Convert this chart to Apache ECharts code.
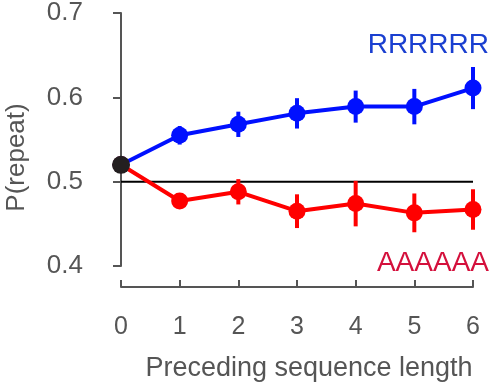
<!DOCTYPE html>
<html><head><meta charset="utf-8">
<script src="https://cdn.jsdelivr.net/npm/echarts@6/dist/echarts.min.js"></script>
<style>html,body{margin:0;padding:0;background:#fff}#c{width:490px;height:388px}</style>
</head><body><div id="c"></div>
<script>
var lengths = [0, 1, 2, 3, 4, 5, 6];
var repeatMean = [0.520, 0.555, 0.568, 0.581, 0.589, 0.589, 0.611];
var repeatErr  = [0, 0.011, 0.015, 0.018, 0.019, 0.021, 0.025];
var altMean    = [0.520, 0.477, 0.488, 0.465, 0.474, 0.463, 0.467];
var altErr     = [0, 0.007, 0.015, 0.020, 0.027, 0.023, 0.024];
var yTicks = [0.4, 0.5, 0.6, 0.7];
var refLevel = 0.5;
var startPoint = [0, 0.520];

var FONT = '"Liberation Sans", Arial, sans-serif';
var chart = echarts.init(document.getElementById('c'));

function pts(m){ return lengths.map(function(x,i){return [x, m[i]];}); }
function errData(m,e){ return lengths.slice(1).map(function(x,j){var i=j+1;return [x, m[i]-e[i], m[i]+e[i]];}); }
function errSeries(m,e,color){
  return {
    type:'custom', z:3,
    data: errData(m,e),
    renderItem: function(params, api){
      var a = api.coord([api.value(0), api.value(1)]);
      var b = api.coord([api.value(0), api.value(2)]);
      return {type:'line', shape:{x1:a[0],y1:a[1],x2:b[0],y2:b[1]}, style:{stroke:color, lineWidth:4}};
    }
  };
}

chart.setOption({
  animation:false,
  grid:{left:121, right:17, top:13, bottom:122, containLabel:false, outerBoundsMode:'none'},
  xAxis:{
    type:'value', min:0, max:6, interval:1, offset:21,
    name:'Preceding sequence length', nameLocation:'middle', nameGap:68,
    nameTextStyle:{color:'#555', fontSize:27, fontFamily:FONT, padding:[0,0,0,24]},
    axisLine:{show:true, lineStyle:{color:'#555', width:2}},
    axisTick:{show:true, inside:true, length:7, lineStyle:{color:'#555', width:2}},
    axisLabel:{color:'#555', fontSize:25, fontFamily:FONT, margin:28},
    splitLine:{show:false}
  },
  yAxis:{
    type:'value', min:yTicks[0], max:yTicks[yTicks.length-1], interval:0.1, offset:14,
    name:'P(repeat)', nameLocation:'middle', nameGap:77,
    nameTextStyle:{color:'#555', fontSize:26, fontFamily:FONT, padding:[0,36,0,0]},
    axisLine:{show:true, lineStyle:{color:'#555', width:2}},
    axisTick:{show:true, length:8, lineStyle:{color:'#555', width:2}},
    axisLabel:{color:'#555', fontSize:26, fontFamily:FONT, margin:24, formatter:function(v){return v.toFixed(1);}},
    splitLine:{show:false}
  },
  series:[
    {type:'line', data:[[0,refLevel],[6,refLevel]], symbol:'none', lineStyle:{color:'#000', width:2}, z:1},
    errSeries(repeatMean, repeatErr, '#0010ff'),
    errSeries(altMean, altErr, '#ff0000'),
    {type:'line', data:pts(repeatMean), symbol:'circle', symbolSize:17, itemStyle:{color:'#0010ff'}, lineStyle:{color:'#0010ff', width:4}, z:4},
    {type:'line', data:pts(altMean), symbol:'circle', symbolSize:17, itemStyle:{color:'#ff0000'}, lineStyle:{color:'#ff0000', width:4}, z:4},
    {type:'scatter', data:[startPoint], symbolSize:18, itemStyle:{color:'#231f20', opacity:1}, z:6}
  ],
  graphic:[
    {type:'text', x:489, y:45, style:{text:'RRRRRR', fill:'#1a3fd0', font:'28px '+FONT, align:'right', verticalAlign:'middle'}},
    {type:'text', x:489, y:263, style:{text:'AAAAAA', fill:'#d4103c', font:'28px '+FONT, align:'right', verticalAlign:'middle'}}
  ]
});
</script></body></html>
